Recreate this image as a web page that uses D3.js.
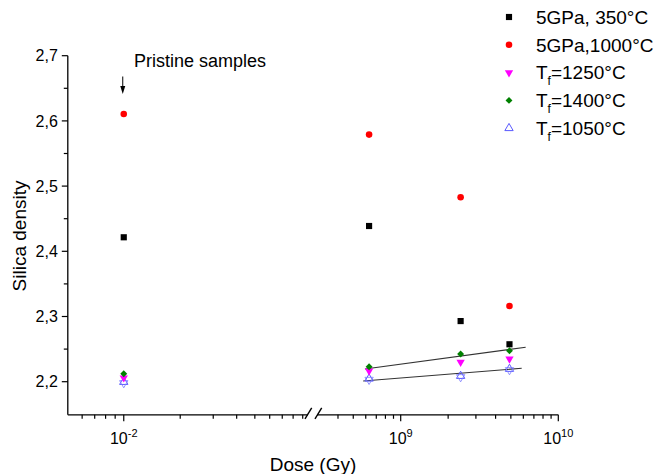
<!DOCTYPE html>
<html><head><meta charset="utf-8">
<script src="https://cdn.jsdelivr.net/npm/d3@7"></script>
<style>body{margin:0;background:#fff}svg{display:block;font-family:"Liberation Sans",Arial,sans-serif}</style>
</head><body><svg id="c" width="654" height="474"></svg>
<script>
// ---- data ----
const seriesNames = ["5GPa, 350°C", "5GPa,1000°C", "Tf=1250°C", "Tf=1400°C", "Tf=1050°C"];
const pristineDose = 0.01;
const irradDoses = [6.3e8, 2.4e9, 4.9e9];
const s350 = [2.4215, 2.4388, 2.293, 2.2574];
const s1000 = [2.6105, 2.579, 2.4828, 2.316];
const t1250 = [2.206, 2.2164, 2.230, 2.2348];
const t1400 = [2.2123, 2.223, 2.2425, 2.2475];
const t1050 = [2.1995, 2.2046, 2.2087, 2.2195];
const fitUpperX = [5.93e8, 6.21e9], fitUpperY = [2.2195, 2.2528];
const fitLowerX = [5.78e8, 5.86e9], fitLowerY = [2.2011, 2.2206];
const yTicks = [2.2, 2.3, 2.4, 2.5, 2.6, 2.7];
const yMinor = [2.25, 2.35, 2.45, 2.55, 2.65];
const xMajorLeft = [0.01], xMajorLeftExp = ["-2"];
const xMinorLeft = [0.006,0.007,0.008,0.009,0.02,0.03,0.04,0.05,0.06,0.07,0.08,0.09];
const xMajorRight = [1e9, 1e10], xMajorRightExp = ["9", "10"];
const xMinorRight = [4e8,5e8,6e8,7e8,8e8,9e8,2e9,3e9,4e9,5e9,6e9,7e9,8e9,9e9];

const svg = d3.select("#c");
const y = d3.scaleLinear().domain([2.15, 2.7]).range([414.3, 55.7]);
const xL = d3.scaleLog().domain([0.005, 0.1]).range([67.3, 311.3]);
const xR = d3.scaleLog().domain([3e8, 1e10]).range([318.3, 558.3]);
const axisY = 414.8, axisX = 67.8;

// y axis
const gy = svg.append("g");
gy.append("line").attr("x1", axisX).attr("x2", axisX).attr("y1", y(2.7)).attr("y2", axisY).attr("stroke", "#000").attr("stroke-width", 1.3);
yTicks.forEach(v => {
  gy.append("line").attr("x1", axisX - 6).attr("x2", axisX).attr("y1", y(v)).attr("y2", y(v)).attr("stroke", "#000").attr("stroke-width", 1.2);
  gy.append("text").attr("x", axisX - 10).attr("y", y(v)).attr("dy", "0.35em").attr("text-anchor", "end")
    .attr("font-size", 16).text(d3.format(".1f")(v).replace(".", ","));
});
yMinor.forEach(v => {
  gy.append("line").attr("x1", axisX - 4).attr("x2", axisX).attr("y1", y(v)).attr("y2", y(v)).attr("stroke", "#000").attr("stroke-width", 1.2);
});

// x axis segments
const gx = svg.append("g");
gx.append("line").attr("x1", axisX).attr("x2", 308).attr("y1", axisY).attr("y2", axisY).attr("stroke", "#000").attr("stroke-width", 1.3);
gx.append("line").attr("x1", 317).attr("x2", xR(1e10)).attr("y1", axisY).attr("y2", axisY).attr("stroke", "#000").attr("stroke-width", 1.3);
// break marks
[[305, 311.7], [315, 321.7]].forEach(([a, b]) => {
  gx.append("line").attr("x1", a).attr("y1", axisY + 4).attr("x2", b).attr("y2", axisY - 7).attr("stroke", "#000").attr("stroke-width", 1.4);
});
function ticks(scale, vals, len) {
  vals.forEach(v => gx.append("line").attr("x1", scale(v)).attr("x2", scale(v)).attr("y1", axisY).attr("y2", axisY + len).attr("stroke", "#000").attr("stroke-width", 1.2));
}
ticks(xL, xMinorLeft, 4); ticks(xR, xMinorRight, 4);
ticks(xL, xMajorLeft, 6.5); ticks(xR, xMajorRight, 6.5);
function label(scale, v, exp) {
  const t = gx.append("text").attr("x", scale(v)).attr("y", 444).attr("text-anchor", "middle").attr("font-size", 16);
  t.append("tspan").text("10");
  t.append("tspan").attr("dy", -7).attr("font-size", 11).text(exp);
}
xMajorLeft.forEach((v, i) => label(xL, v, xMajorLeftExp[i]));
xMajorRight.forEach((v, i) => label(xR, v, xMajorRightExp[i]));

// titles
svg.append("text").attr("transform", "translate(26,236) rotate(-90)").attr("text-anchor", "middle").attr("font-size", 19).text("Silica density");
svg.append("text").attr("x", 313).attr("y", 471).attr("text-anchor", "middle").attr("font-size", 19).text("Dose (Gy)");

// annotation
svg.append("text").attr("x", 134).attr("y", 67).attr("font-size", 18).text("Pristine samples");
svg.append("line").attr("x1", xL(pristineDose) - 1).attr("x2", xL(pristineDose) - 1).attr("y1", 76.5).attr("y2", 88).attr("stroke", "#000").attr("stroke-width", 1);
svg.append("path").attr("d", `M${xL(pristineDose) - 3.5},86 L${xL(pristineDose) + 1.5},86 L${xL(pristineDose) - 1},94 Z`).attr("fill", "#000");

// fit lines
const xAll = d => d < 1 ? xL(d) : xR(d);
[[fitUpperX, fitUpperY], [fitLowerX, fitLowerY]].forEach(([xs, ys]) => {
  svg.append("line").attr("x1", xR(xs[0])).attr("y1", y(ys[0])).attr("x2", xR(xs[1])).attr("y2", y(ys[1])).attr("stroke", "#333").attr("stroke-width", 1.1);
});

// symbols
const sym = {
  square: d3.symbol().type(d3.symbolSquare).size(38),
  circle: d3.symbol().type(d3.symbolCircle).size(34),
  down: d3.symbol().type(d3.symbolTriangle).size(30),
  diamond: d3.symbol().type(d3.symbolSquare).size(24),
  up: d3.symbol().type(d3.symbolTriangle).size(30)
};
const series = [
  {vals: s350, shape: "square", fill: "#000", stroke: "none", rot: 0},
  {vals: s1000, shape: "circle", fill: "#ff0000", stroke: "none", rot: 0},
  {vals: t1250, shape: "down", fill: "#ff00ff", stroke: "none", rot: 180},
  {vals: t1400, shape: "diamond", fill: "#008000", stroke: "none", rot: 45},
  {vals: t1050, shape: "up", fill: "none", stroke: "#5a5aff", rot: 0}
];
const doses = [pristineDose].concat(irradDoses);
function drawSym(g, s, cx, cy) {
  g.append("path").attr("d", sym[s.shape]()).attr("transform", `translate(${cx},${cy}) rotate(${s.rot})`)
    .attr("fill", s.fill).attr("stroke", s.stroke).attr("stroke-width", 1);
}
const gp = svg.append("g");
[4, 2, 3, 0, 1].forEach(i => {
  const s = series[i];
  s.vals.forEach((v, j) => {
    drawSym(gp, s, xAll(doses[j]), y(v));
    if (i === 4) gp.append("path").attr("d", sym.up()).attr("transform", `translate(${xAll(doses[j])},${y(v) + 1}) rotate(180)`)
      .attr("fill", "none").attr("stroke", "#7a7aff").attr("stroke-width", 0.8);
  });
});

// legend
const lg = svg.append("g");
seriesNames.forEach((n, i) => {
  const cy = 17 + i * 27.8;
  drawSym(lg, series[i], 509, cy);
  const t = lg.append("text").attr("x", 536).attr("y", cy).attr("dy", "0.36em").attr("font-size", 19);
  if (n.startsWith("Tf")) {
    t.append("tspan").text("T");
    t.append("tspan").attr("font-size", 12).attr("dy", 6).text("f");
    t.append("tspan").attr("dy", -6).text(n.slice(2));
  } else t.text(n);
});
</script></body></html>
